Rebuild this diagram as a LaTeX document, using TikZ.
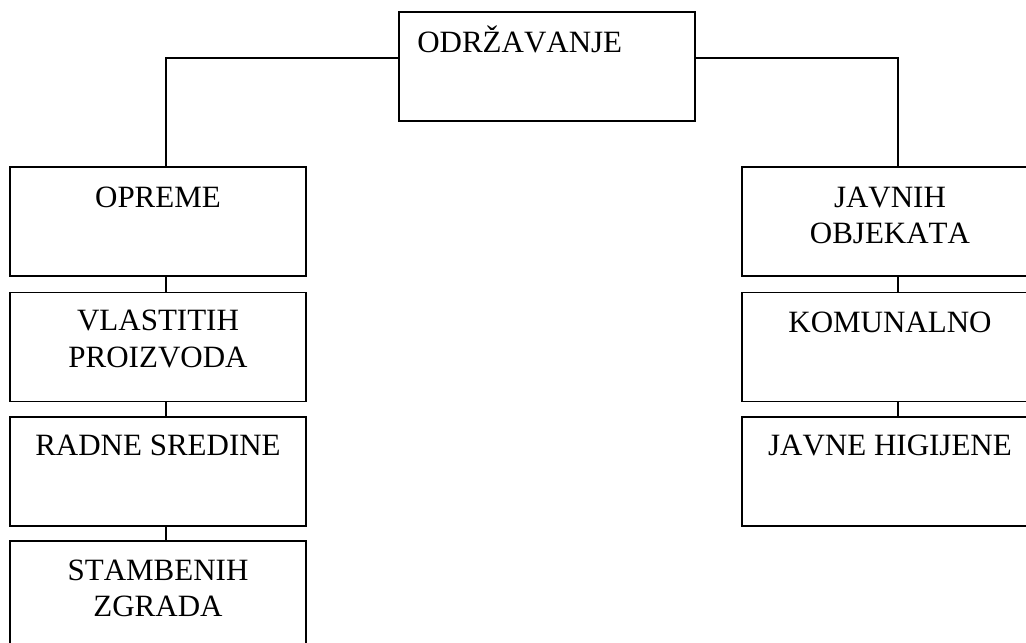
\documentclass[tikz,border=0pt]{standalone}
\usepackage{fontspec}
\setmainfont[Kerning=Off]{Liberation Serif}
\begin{document}
\begin{tikzpicture}[x=0.75pt,y=-0.75pt,
  box/.style={draw, line width=1.4pt, minimum width=222pt, minimum height=81.75pt, inner sep=0pt},
  lbl/.style={font=\fontsize{23.25}{28}\selectfont, anchor=base, inner sep=0pt},
  conn/.style={line width=1.4pt}]
\useasboundingbox (0,0) rectangle (1026,643);
\clip (0,0) rectangle (1026,643);
% boxes
\node[box] (top) at (547,66.5) {};
\node[box] (l1) at (158,221.5) {};
\node[box] (l2) at (158,347) {};
\node[box] (l3) at (158,471.5) {};
\node[box] (l4) at (158,595.5) {};
\node[box] (r1) at (890,221.5) {};
\node[box] (r2) at (890,347) {};
\node[box] (r3) at (890,471.5) {};
% texts
\node[lbl, anchor=base west] (tTop) at (417,52) {ODRŽAVANJE};
\node[lbl] (tL1) at (158,207) {OPREME};
\node[lbl] (tL2a) at (158,330) {VLASTITIH};
\node[lbl] (tL2b) at (158,367) {PROIZVODA};
\node[lbl] (tL3) at (158,455) {RADNE SREDINE};
\node[lbl] (tL4a) at (158,580) {STAMBENIH};
\node[lbl] (tL4b) at (158,616) {ZGRADA};
\node[lbl] (tR1a) at (890,207) {JAVNIH};
\node[lbl] (tR1b) at (890,243) {OBJEKATA};
\node[lbl] (tR2) at (890,332) {KOMUNALNO};
\node[lbl] (tR3) at (890,455) {JAVNE HIGIJENE};
% connectors
\coordinate (lj) at (399,58);
\coordinate (rj) at (695,58);
\draw[conn] (lj) -| ([xshift=6pt]l1.north);
\draw[conn] (rj) -| ([xshift=6pt]r1.north);
\draw[conn] ([xshift=6pt]l1.south) -- ([xshift=6pt]l2.north);
\draw[conn] ([xshift=6pt]l2.south) -- ([xshift=6pt]l3.north);
\draw[conn] ([xshift=6pt]l3.south) -- ([xshift=6pt]l4.north);
\draw[conn] ([xshift=6pt]r1.south) -- ([xshift=6pt]r2.north);
\draw[conn] ([xshift=6pt]r2.south) -- ([xshift=6pt]r3.north);
\end{tikzpicture}
\end{document}
